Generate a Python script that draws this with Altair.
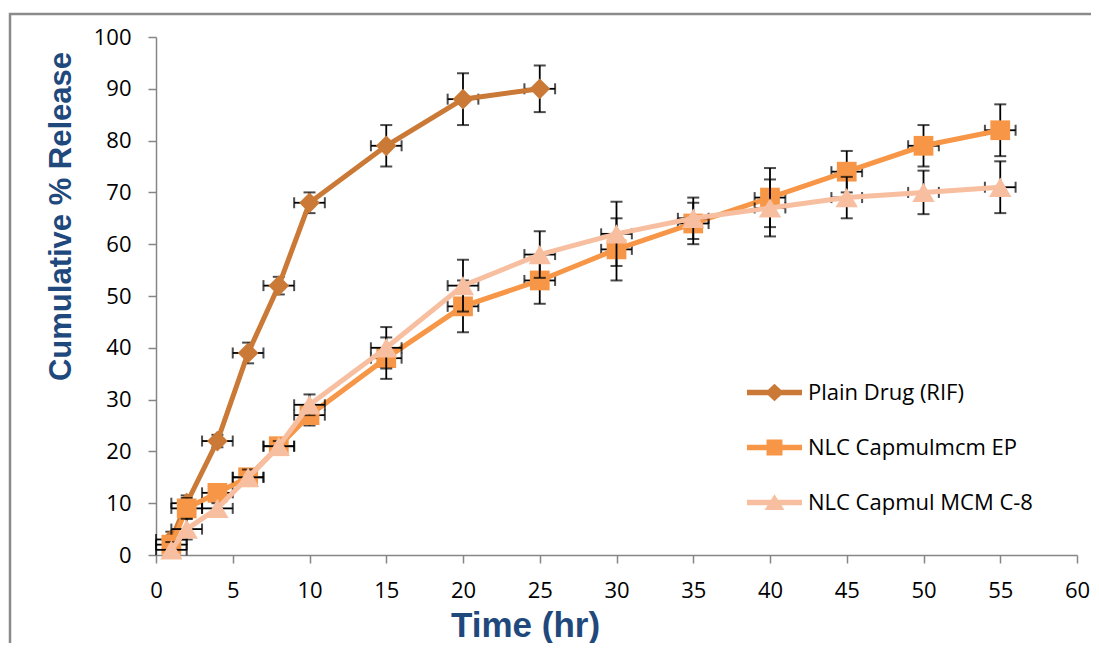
import altair as alt
import pandas as pd

# ---------------- data ----------------
series_names = ["Plain Drug (RIF)", "NLC Capmulmcm EP", "NLC Capmul MCM C-8"]
series_colors = ["#CA7A36", "#F79646", "#F7BFA0"]

time_rif = [1, 2, 4, 6, 8, 10, 15, 20, 25]
release_rif = [3, 10, 22, 39, 52, 68, 79, 88, 90]
err_rif = [1.5, 1.5, 1.2, 2, 1.7, 2, 4, 5, 4.5]

time_nlc = [1, 2, 4, 6, 8, 10, 15, 20, 25, 30, 35, 40, 45, 50, 55]
release_ep = [2, 9, 12, 15, 21, 27, 38, 48, 53, 59, 64, 69, 74, 79, 82]
err_ep = [1.5, 2, 1, 1.5, 1, 2, 4, 5, 4.5, 6, 4, 5.7, 4, 4, 5]
release_c8 = [1, 5, 9, 15, 21, 29, 40, 52, 58, 62, 65, 67, 69, 70, 71]
err_c8 = [1.5, 2, 1, 1.5, 1, 2, 4, 5, 4.5, 6.2, 4, 5.5, 4, 4.2, 5]
time_err = 1

x_ticks = list(range(0, 61, 5))
y_ticks = list(range(0, 101, 10))

marker_shapes = ["diamond", "square", "triangle-up"]
marker_sizes = [430, 390, 500]
# line-with-marker legend symbols; the degenerate subpaths fix every entry's height
legend_paths = [
    "M-1,-0.1L1,-0.1L1,0.1L-1,0.1Z M0,-0.32L0.34,0L0,0.32L-0.34,0Z M0,-0.98L0,-0.98Z M0,0.98L0,0.98Z",
    "M-1,-0.1L1,-0.1L1,0.1L-1,0.1Z M-0.29,-0.29L0.29,-0.29L0.29,0.29L-0.29,0.29Z M0,-0.98L0,-0.98Z M0,0.98L0,0.98Z",
    "M-1,-0.1L1,-0.1L1,0.1L-1,0.1Z M0,-0.3L0.36,0.27L-0.36,0.27Z M0,-0.98L0,-0.98Z M0,0.98L0,0.98Z",
]

series_data = [
    (series_names[0], time_rif, release_rif, err_rif),
    (series_names[1], time_nlc, release_ep, err_ep),
    (series_names[2], time_nlc, release_c8, err_c8),
]
rows = []
for name, ts, vs, es in series_data:
    for t, v, e in zip(ts, vs, es):
        rows.append(dict(series=name, time=t, release=v, lo=v - e, hi=v + e,
                         tlo=t - time_err, thi=t + time_err))
df = pd.DataFrame(rows)

# ---------------- encodings ----------------
x_scale = alt.Scale(domain=[0, 60], nice=False, zero=True)
y_scale = alt.Scale(domain=[0, 100], nice=False, zero=True)

AXIS_GRAY = "#868686"
TITLE_BLUE = "#1F497D"

x_axis = alt.Axis(
    values=x_ticks, grid=False, domainColor=AXIS_GRAY, domainWidth=1.5,
    tickColor=AXIS_GRAY, tickWidth=1.5, tickSize=8,
    labelFont="Open Sans", labelFontSize=22, labelColor="#000000",
    labelPadding=17, labelFlush=False, labelOverlap=False,
    title="Time (hr)", titleFont="Liberation Sans", titleFontSize=35,
    titleFontWeight="bold", titleColor=TITLE_BLUE,
    titleX=369, titleY=81, titleAlign="center", titleBaseline="alphabetic",
)
y_axis = alt.Axis(
    values=y_ticks, grid=False, domainColor=AXIS_GRAY, domainWidth=1.5,
    tickColor=AXIS_GRAY, tickWidth=1.5, tickSize=8,
    labelFont="Open Sans", labelFontSize=22, labelColor="#000000",
    labelPadding=17, labelFlush=False, labelOverlap=False,
    title="Cumulative % Release", titleFont="Liberation Sans", titleFontSize=31,
    titleFontWeight="bold", titleColor=TITLE_BLUE, titleAngle=270,
    titleX=-86, titleY=179, titleAlign="center", titleBaseline="alphabetic",
)


def X(field):
    return alt.X(f"{field}:Q", scale=x_scale, axis=x_axis)


def Y(field):
    return alt.Y(f"{field}:Q", scale=y_scale, axis=y_axis)


layers = []

# chart-area frame (decoration)
frame = alt.Chart(pd.DataFrame({"a": [0]})).mark_rect(
    fill=None, stroke="#8A8A8A", strokeWidth=2.5
).encode(x=alt.value(-146), y=alt.value(-23), x2=alt.value(1100), y2=alt.value(800))
layers.append(frame)

for i, name in enumerate(series_names):
    base = alt.Chart(df).transform_filter(alt.datum.series == name)
    err_v = base.mark_rule(color="black", strokeWidth=1.8).encode(
        x=X("time"), y=Y("lo"), y2="hi")
    cap_lo = base.mark_tick(orient="horizontal", color="black", size=12, thickness=2).encode(
        x=X("time"), y=Y("lo"))
    cap_hi = base.mark_tick(orient="horizontal", color="black", size=12, thickness=2).encode(
        x=X("time"), y=Y("hi"))
    err_h = base.mark_rule(color="black", strokeWidth=1.8).encode(
        x=X("tlo"), x2="thi", y=Y("release"))
    cap_l = base.mark_tick(orient="vertical", color="black", size=11, thickness=2).encode(
        x=X("tlo"), y=Y("release"))
    cap_r = base.mark_tick(orient="vertical", color="black", size=11, thickness=2).encode(
        x=X("thi"), y=Y("release"))
    line = base.mark_line(color=series_colors[i], strokeWidth=5).encode(
        x=X("time"), y=Y("release"), order="time:Q")
    pts = base.mark_point(filled=True, opacity=1, shape=marker_shapes[i],
                          size=marker_sizes[i], color=series_colors[i],
                          strokeWidth=0).encode(x=X("time"), y=Y("release"))
    layers += [err_v, cap_lo, cap_hi, err_h, cap_l, cap_r, line, pts]

# legend-only layer (no data drawn)
legend = alt.Legend(
    orient="none", legendX=591, legendY=328, title=None,
    labelFont="Open Sans", labelFontSize=22, labelColor="#000000",
    symbolSize=3025, symbolStrokeWidth=0, symbolOpacity=1, labelOffset=6,
    rowPadding=0, padding=0, labelLimit=400,
)
legend_layer = alt.Chart(df).transform_filter(alt.datum.release < -1000).mark_point(
    filled=True, opacity=1
).encode(
    x=X("time"), y=Y("release"),
    fill=alt.Fill("series:N", scale=alt.Scale(domain=series_names, range=series_colors),
                  legend=legend),
    shape=alt.Shape("series:N", scale=alt.Scale(domain=series_names, range=legend_paths),
                    legend=legend),
)
layers.append(legend_layer)

chart = alt.layer(*layers).properties(
    width=921, height=518,
    autosize=alt.AutoSizeParams(type="none"),
    padding={"left": 148, "top": 29, "right": 14, "bottom": 88},
    background="white",
).configure_view(stroke=None)

chart.save("out.html", embed_options={"renderer": "svg", "actions": False})
